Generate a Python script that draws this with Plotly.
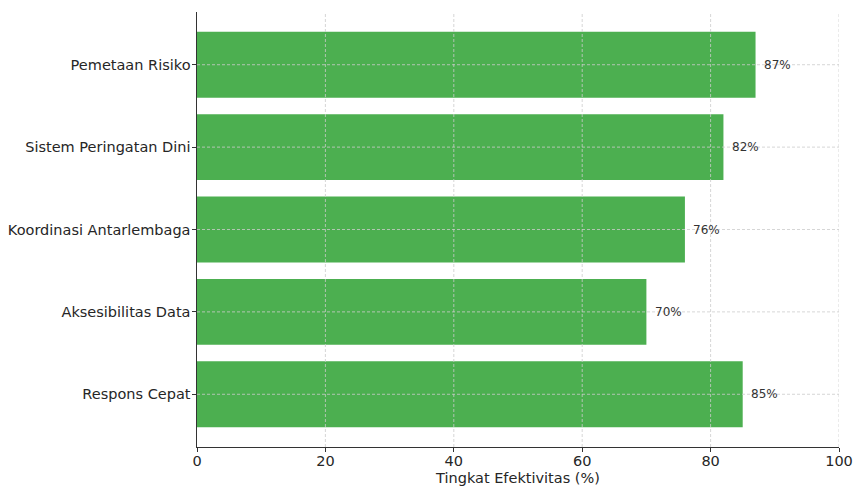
import plotly.graph_objects as go

categories = ["Pemetaan Risiko", "Sistem Peringatan Dini", "Koordinasi Antarlembaga",
              "Aksesibilitas Data", "Respons Cepat"]
values = [87, 82, 76, 70, 85]
x_ticks = [0, 20, 40, 60, 80, 100]

bar_color = "#4CAF50"
grid_color = "#cccccc"
font_family = "DejaVu Sans, Verdana, sans-serif"

fig = go.Figure(
    go.Bar(
        y=categories,
        x=values,
        orientation="h",
        width=0.8,
        marker=dict(color=bar_color, line=dict(width=0)),
        hoverinfo="skip",
    )
)

# dashed grid drawn over the bars
grid_line = dict(color=grid_color, width=0.8, dash="3px,2px")
for t in x_ticks[1:]:
    fig.add_shape(type="line", xref="x", yref="paper", x0=t, x1=t, y0=0, y1=1,
                  line=grid_line, layer="above")
for cat in categories:
    fig.add_shape(type="line", xref="paper", yref="y", x0=0, x1=1, y0=cat, y1=cat,
                  line=grid_line, layer="above")

# value labels just right of each bar end
for cat, val in zip(categories, values):
    fig.add_annotation(
        x=val + 1, y=cat, text=f"{val}%", showarrow=False,
        xanchor="left", yanchor="middle",
        font=dict(family=font_family, size=12, color="#333333"),
    )

fig.update_layout(
    width=854, height=489,
    margin=dict(l=197, r=15, t=12, b=42),
    paper_bgcolor="white", plot_bgcolor="white",
    font=dict(family=font_family, size=14, color="#262626"),
    showlegend=False,
    bargap=0.2,
)

fig.update_xaxes(
    range=[0, 100], tickvals=x_ticks, ticks="outside", ticklen=3.5, tickcolor="#333333",
    ticklabelstandoff=-3,
    showline=True, linecolor="#333333", linewidth=1.2,
    showgrid=False, zeroline=False, automargin=False,
    title=dict(text="Tingkat Efektivitas (%)", standoff=4, font=dict(size=14.5)),
    tickfont=dict(size=14.5),
)
fig.update_yaxes(
    categoryorder="array", categoryarray=categories[::-1],
    range=[-0.64, 4.64],
    ticks="outside", ticklen=3.5, tickcolor="#333333",
    ticklabelstandoff=-1,
    showline=True, linecolor="#333333", linewidth=1.2,
    showgrid=False, zeroline=False, automargin=False,
    tickfont=dict(size=14.5),
)

fig.write_html("out.html")
